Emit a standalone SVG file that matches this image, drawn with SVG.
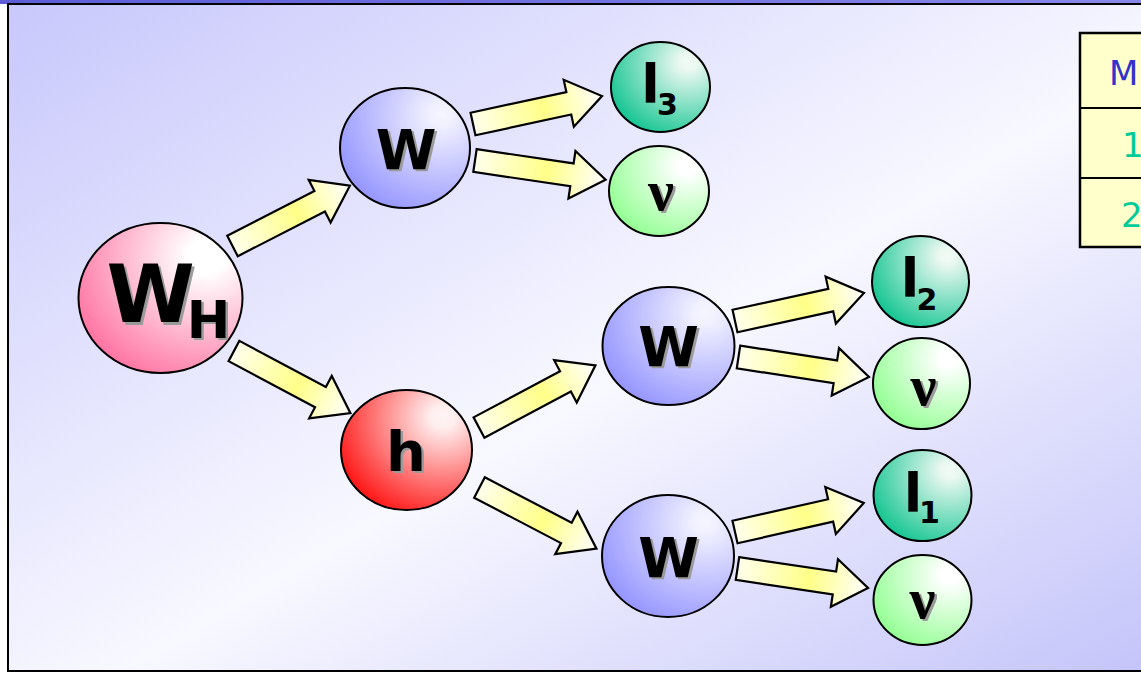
<svg xmlns="http://www.w3.org/2000/svg" xmlns:xlink="http://www.w3.org/1999/xlink" width="1141" height="673" viewBox="0 0 1141 673">
<style>
.node{stroke:#000;stroke-width:2}
.arrow{fill:url(#gArrow);stroke:#000;stroke-width:2.2;stroke-linejoin:miter}
.lbl{font-family:"DejaVu Sans",sans-serif;font-weight:bold;fill:#000;text-anchor:middle}
.nu{font-family:"Liberation Serif",serif;font-weight:bold;fill:#000;text-anchor:middle}
.sh{fill:#9a9a9a}
.tbl{font-family:"DejaVu Sans",sans-serif;font-size:34px}
</style>
<defs>
<linearGradient id="gTop" x1="0" y1="0" x2="1" y2="0">
<stop offset="0" stop-color="#5c5cd6"/><stop offset="1" stop-color="#8888e8"/>
</linearGradient>
<linearGradient id="gBg" x1="0" y1="0" x2="1" y2="1">
<stop offset="0" stop-color="#c8c8fc"/><stop offset="0.55" stop-color="#f8f8ff"/><stop offset="1" stop-color="#c4c4fa"/>
</linearGradient>
<linearGradient id="gArrow" x1="0" y1="0" x2="1" y2="0">
<stop offset="0" stop-color="#ffffec"/><stop offset="0.55" stop-color="#ffff88"/><stop offset="1" stop-color="#ffffff"/>
</linearGradient>
<radialGradient id="gPink" cx="0.78" cy="0.25" r="0.95" fx="0.78" fy="0.22">
<stop offset="0" stop-color="#ffffff"/><stop offset="0.12" stop-color="#ffffff"/><stop offset="1" stop-color="#ff6699"/>
</radialGradient>
<radialGradient id="gBlue" cx="0.78" cy="0.25" r="0.95" fx="0.78" fy="0.22">
<stop offset="0" stop-color="#f6f6ff"/><stop offset="0.1" stop-color="#f0f0ff"/><stop offset="1" stop-color="#8c8cff"/>
</radialGradient>
<radialGradient id="gRed" cx="0.78" cy="0.25" r="0.95" fx="0.78" fy="0.22">
<stop offset="0" stop-color="#fff4f4"/><stop offset="0.1" stop-color="#ffeeee"/><stop offset="1" stop-color="#ff0000"/>
</radialGradient>
<radialGradient id="gTeal" cx="0.78" cy="0.25" r="0.95" fx="0.78" fy="0.22">
<stop offset="0" stop-color="#f2fbf6"/><stop offset="0.1" stop-color="#eaf8f1"/><stop offset="1" stop-color="#00c088"/>
</radialGradient>
<radialGradient id="gLime" cx="0.78" cy="0.25" r="0.95" fx="0.78" fy="0.22">
<stop offset="0" stop-color="#ffffff"/><stop offset="0.1" stop-color="#ffffff"/><stop offset="1" stop-color="#88ff88"/>
</radialGradient>
<path id="arr" class="arrow" d="M0,-11.5 H98 V-24 L132,0 L98,24 V11.5 H0 Z"/>
</defs>

<rect x="0" y="0" width="1141" height="673" fill="#ffffff"/>
<rect x="0" y="0" width="1141" height="4" fill="url(#gTop)"/>
<rect x="8" y="4" width="1140" height="667" fill="url(#gBg)" stroke="#000" stroke-width="2"/>

<g id="table">
<rect x="1080" y="33" width="70" height="214" fill="#ffffcc" stroke="#000" stroke-width="2.5"/>
<line x1="1080" y1="108" x2="1141" y2="108" stroke="#000" stroke-width="2"/>
<line x1="1080" y1="178" x2="1141" y2="178" stroke="#000" stroke-width="2"/>
<text class="tbl" x="1109" y="85" fill="#3333cc">M</text>
<text class="tbl" x="1122" y="157" fill="#00cc99">1</text>
<text class="tbl" x="1121" y="227" fill="#00cc99">2</text>
</g>

<g id="connectors">
<use href="#arr" transform="translate(232.5,246) rotate(-27.2)"/>
<use href="#arr" transform="translate(234,351) rotate(28.1)"/>
<use href="#arr" transform="translate(479,427.5) rotate(-28.1)"/>
<use href="#arr" transform="translate(479.5,487.5) rotate(27.6)"/>
<use href="#arr" transform="translate(473,124) rotate(-12.2)"/>
<use href="#arr" transform="translate(475,160.5) rotate(8.4)"/>
<use href="#arr" transform="translate(735,321) rotate(-12.3)"/>
<use href="#arr" transform="translate(738.5,357) rotate(8.7)"/>
<use href="#arr" transform="translate(735,532) rotate(-12.7)"/>
<use href="#arr" transform="translate(737.5,568.5) rotate(8.5)"/>
</g>

<g id="node-WH">
<ellipse class="node" cx="160.5" cy="298" rx="82" ry="75" fill="url(#gPink)"/>
<text class="lbl sh" x="153" y="325" font-size="80">W</text>
<text class="lbl" x="150.5" y="322" font-size="80">W</text>
<text class="lbl sh" x="211" y="340" font-size="52">H</text>
<text class="lbl" x="208.5" y="338" font-size="52">H</text>
</g>

<g id="node-W1">
<ellipse class="node" cx="405" cy="148" rx="65" ry="60" fill="url(#gBlue)"/>
<text class="lbl sh" x="408.5" y="171" font-size="55">W</text>
<text class="lbl" x="406" y="169" font-size="55">W</text>
</g>

<g id="node-h">
<ellipse class="node" cx="406.5" cy="450" rx="65.5" ry="60" fill="url(#gRed)"/>
<text class="lbl sh" x="408.5" y="473" font-size="56">h</text>
<text class="lbl" x="406" y="471" font-size="56">h</text>
</g>

<g id="node-W2">
<ellipse class="node" cx="668.5" cy="346" rx="66" ry="59" fill="url(#gBlue)"/>
<text class="lbl sh" x="671" y="368" font-size="55">W</text>
<text class="lbl" x="668.5" y="366" font-size="55">W</text>
</g>

<g id="node-W3">
<ellipse class="node" cx="668" cy="556" rx="66" ry="61" fill="url(#gBlue)"/>
<text class="lbl sh" x="671" y="579" font-size="55">W</text>
<text class="lbl" x="668.5" y="577" font-size="55">W</text>
</g>

<g id="node-l3">
<ellipse class="node" cx="660.5" cy="87" rx="49.5" ry="45" fill="url(#gTeal)"/>
<text class="lbl" x="650.5" y="103" font-size="54">l</text>
<text class="lbl" x="667.5" y="115" font-size="30">3</text>
</g>

<g id="node-nu1">
<ellipse class="node" cx="659" cy="191" rx="50" ry="45" fill="url(#gLime)"/>
<text class="nu sh" x="663.5" y="212" font-size="58">ν</text>
<text class="nu" x="661" y="210" font-size="58">ν</text>
</g>

<g id="node-l2">
<ellipse class="node" cx="920.5" cy="281.5" rx="48.5" ry="45.5" fill="url(#gTeal)"/>
<text class="lbl" x="910" y="297" font-size="54">l</text>
<text class="lbl" x="927" y="310" font-size="30">2</text>
</g>

<g id="node-nu2">
<ellipse class="node" cx="921.5" cy="383.5" rx="48.5" ry="45.5" fill="url(#gLime)"/>
<text class="nu sh" x="926" y="407" font-size="58">ν</text>
<text class="nu" x="923.5" y="405" font-size="58">ν</text>
</g>

<g id="node-l1">
<ellipse class="node" cx="922.5" cy="495.5" rx="49" ry="45.5" fill="url(#gTeal)"/>
<text class="lbl" x="913" y="512" font-size="54">l</text>
<text class="lbl" x="929.5" y="523" font-size="30">1</text>
</g>

<g id="node-nu3">
<ellipse class="node" cx="922.5" cy="600" rx="49" ry="45" fill="url(#gLime)"/>
<text class="nu sh" x="925" y="620" font-size="58">ν</text>
<text class="nu" x="922.5" y="618" font-size="58">ν</text>
</g>
</svg>
